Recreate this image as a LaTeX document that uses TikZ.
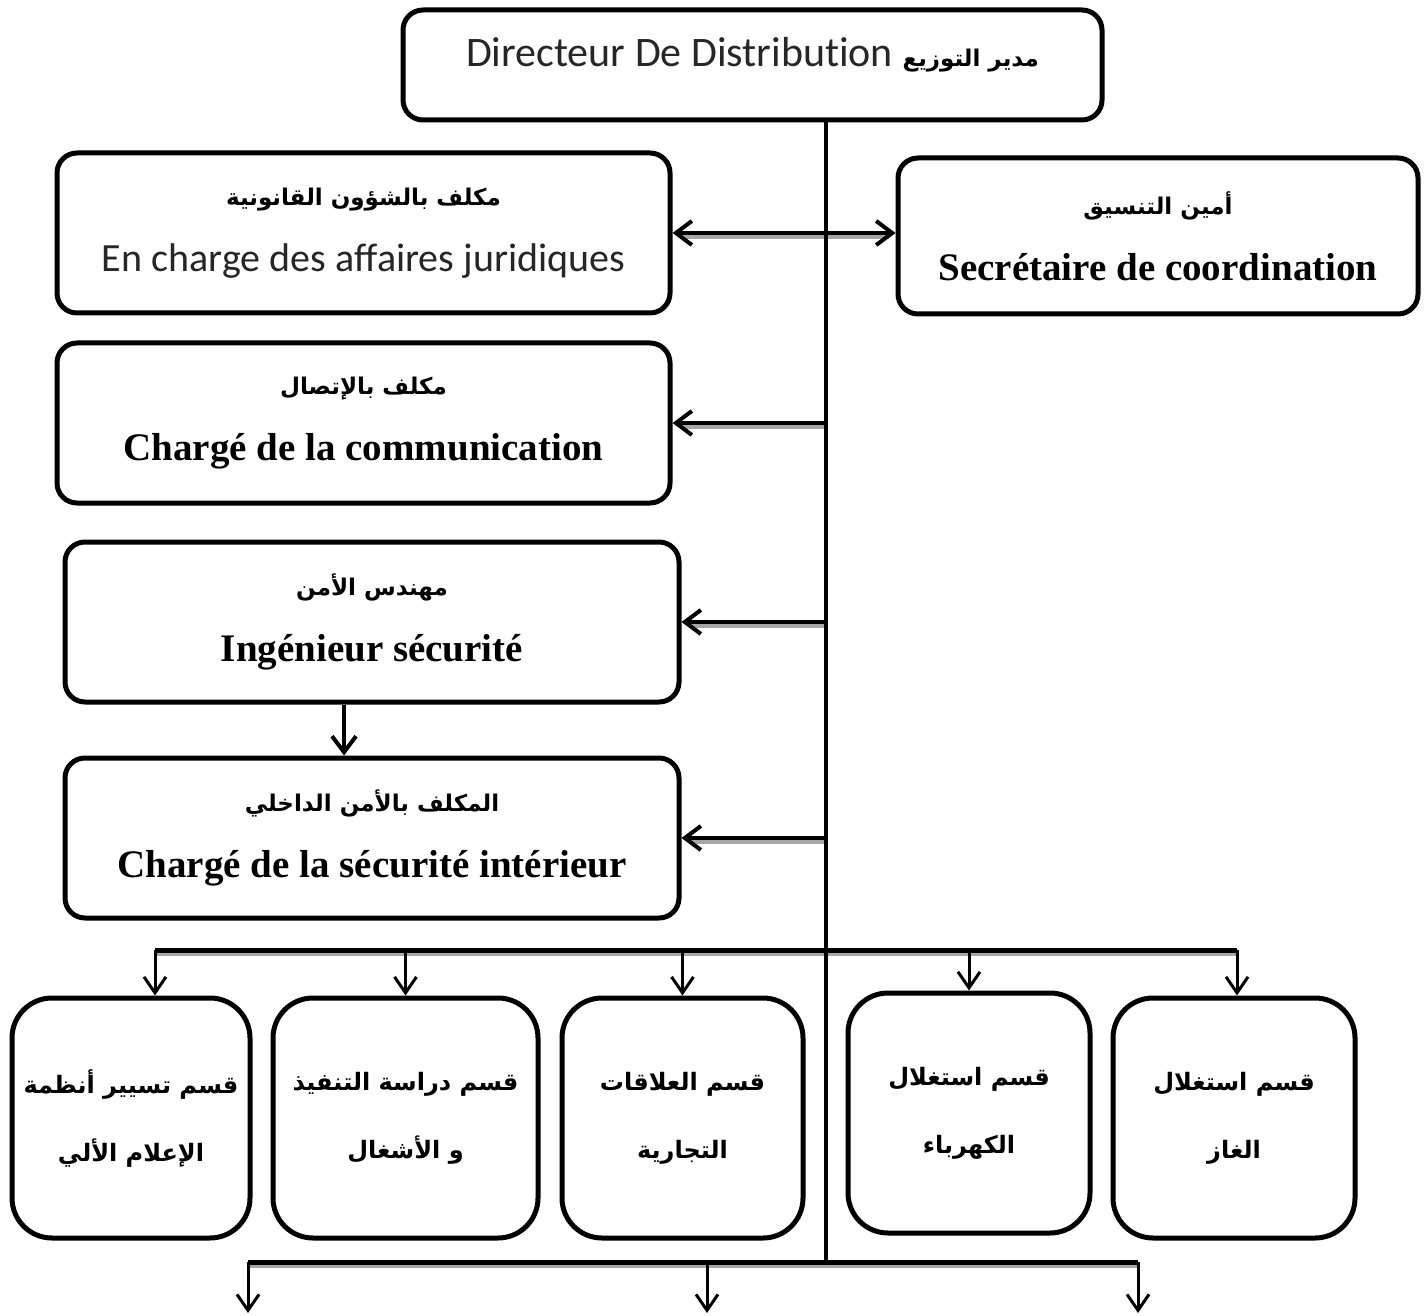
\documentclass[tikz,border=0pt]{standalone}
\usepackage{fontspec}
\usetikzlibrary{arrows.meta}
\setmainfont{Liberation Serif}
\newfontfamily\arabicfont[Script=Arabic]{DejaVu Sans}
\newfontfamily\lightfont[Ligatures=NoCommon]{Carlito}
\TeXXeTstate=1
\newcommand{\arsz}[1]{\arabicfont\bfseries\fontsize{#1}{#1}\selectfont}
\begin{document}
\begin{tikzpicture}[x=0.5pt,y=-0.5pt,
  box/.style={draw, line width=2.5pt, rounded corners=10pt, fill=white, align=center, inner sep=0pt, font=\fontsize{19.5}{33}\selectfont\bfseries},
  bbox/.style={box, rounded corners=20pt, minimum width=121pt, minimum height=120pt, font=\fontsize{12}{34}\selectfont},
  conn/.style={line width=2pt, -{Straight Barb[length=8pt,width=12pt]}},
  bus/.style={line width=2.5pt},
  shade/.style={draw=black!35, line width=2.5pt},
  drop/.style={line width=1.5pt, -{Straight Barb[length=8pt,width=11pt,line width=1.5pt]}}
]
\useasboundingbox (0,0) rectangle (1427,1315);
\coordinate (tBot) at (826,1262);
\coordinate (busL) at (155,950);
\coordinate (busR) at (1237,950);
\coordinate (e1) at (248,1313);
\coordinate (e2) at (707,1313);
\coordinate (e3) at (1138,1313);

\node[box, minimum width=349.5pt, minimum height=55pt, font=\normalfont] (dir) at (752.5,65)
  {\raisebox{13pt}{\lightfont\color{black!85}\fontsize{21}{25}\selectfont Directeur De Distribution {\color{black}\arsz{11.5}\beginR مدير التوزيع\endR}}};

\node[box, minimum width=306.5pt, minimum height=80pt] (jur) at (363.5,233)
  {{\arsz{11.5}\beginR مكلف بالشؤون القانونية\endR}\\{\lightfont\mdseries\color{black!85}\fontsize{20}{33}\selectfont En charge des affaires juridiques}};
\node[box, minimum width=260pt, minimum height=78pt] (sec) at (1158,236)
  {{\arsz{11.5}\beginR أمين التنسيق\endR}\\Secrétaire de coordination};
\node[box, minimum width=306.5pt, minimum height=80pt] (com) at (363.5,423)
  {{\arsz{11.5}\beginR مكلف بالإتصال\endR}\\Chargé de la communication};
\node[box, minimum width=307pt, minimum height=80pt] (ing) at (372,622)
  {{\arsz{11.5}\beginR مهندس الأمن\endR}\\Ingénieur sécurité};
\node[box, minimum width=307pt, minimum height=80pt] (csi) at (372,838)
  {{\arsz{11.5}\beginR المكلف بالأمن الداخلي\endR}\\Chargé de la sécurité intérieur};

\node[bbox, minimum width=119pt] (b1) at (131,1118)
  {{\arsz{12}\beginR قسم تسيير أنظمة\endR}\\{\arsz{12}\beginR الإعلام الألي\endR}};
\node[bbox, minimum width=132.5pt] (b2) at (405.5,1118)
  {{\arsz{12}\beginR قسم دراسة التنفيذ\endR}\\{\arsz{12}\beginR و الأشغال\endR}};
\node[bbox, minimum width=120.5pt] (b3) at (682.5,1118)
  {{\arsz{12}\beginR قسم العلاقات\endR}\\{\arsz{12}\beginR التجارية\endR}};
\node[bbox] (b4) at (969,1113)
  {{\arsz{12}\beginR قسم استغلال\endR}\\{\arsz{12}\beginR الكهرباء\endR}};
\node[bbox] (b5) at (1234,1118)
  {{\arsz{12}\beginR قسم استغلال\endR}\\{\arsz{12}\beginR الغاز\endR}};

% drop shadows under the horizontal connectors
\begin{scope}[transform canvas={shift={(0.8pt,-1.6pt)}}]
  \draw[shade] ([xshift=4pt]jur.east) -- ([xshift=-4pt]jur.east -| sec.west);
  \draw[shade] (com.east -| tBot) -- ([xshift=4pt]com.east);
  \draw[shade] (ing.east -| tBot) -- ([xshift=4pt]ing.east);
  \draw[shade] (csi.east -| tBot) -- ([xshift=4pt]csi.east);
  \draw[shade] (busL) -- (busR);
  \draw[shade] (e1 |- tBot) -- (e3 |- tBot);
\end{scope}

% trunk
\draw[line width=2pt] (dir.south -| tBot) -- (tBot);
% staff links
\draw[conn, <->, >={Straight Barb[length=8pt,width=12pt]}] (jur.east) -- (jur.east -| sec.west);
\draw[conn] (com.east -| tBot) -- (com.east);
\draw[conn] (ing.east -| tBot) -- (ing.east);
\draw[conn] (csi.east -| tBot) -- (csi.east);
\draw[conn] ([xshift=-14pt]ing.south) -- ([xshift=-14pt]csi.north);
% division bus
\draw[bus] (busL) -- (busR);
\draw[drop] (busL) -- (busL |- b1.north);
\draw[drop] (b2.north |- busL) -- (b2.north);
\draw[drop] (b3.north |- busL) -- (b3.north);
\draw[drop] (b4.north |- busL) -- (b4.north);
\draw[drop] (busR) -- (busR |- b5.north);
% bottom bus
\draw[bus] (e1 |- tBot) -- (e3 |- tBot);
\draw[drop] (e1 |- tBot) -- (e1);
\draw[drop] (e2 |- tBot) -- (e2);
\draw[drop] (e3 |- tBot) -- (e3);
\end{tikzpicture}
\end{document}
